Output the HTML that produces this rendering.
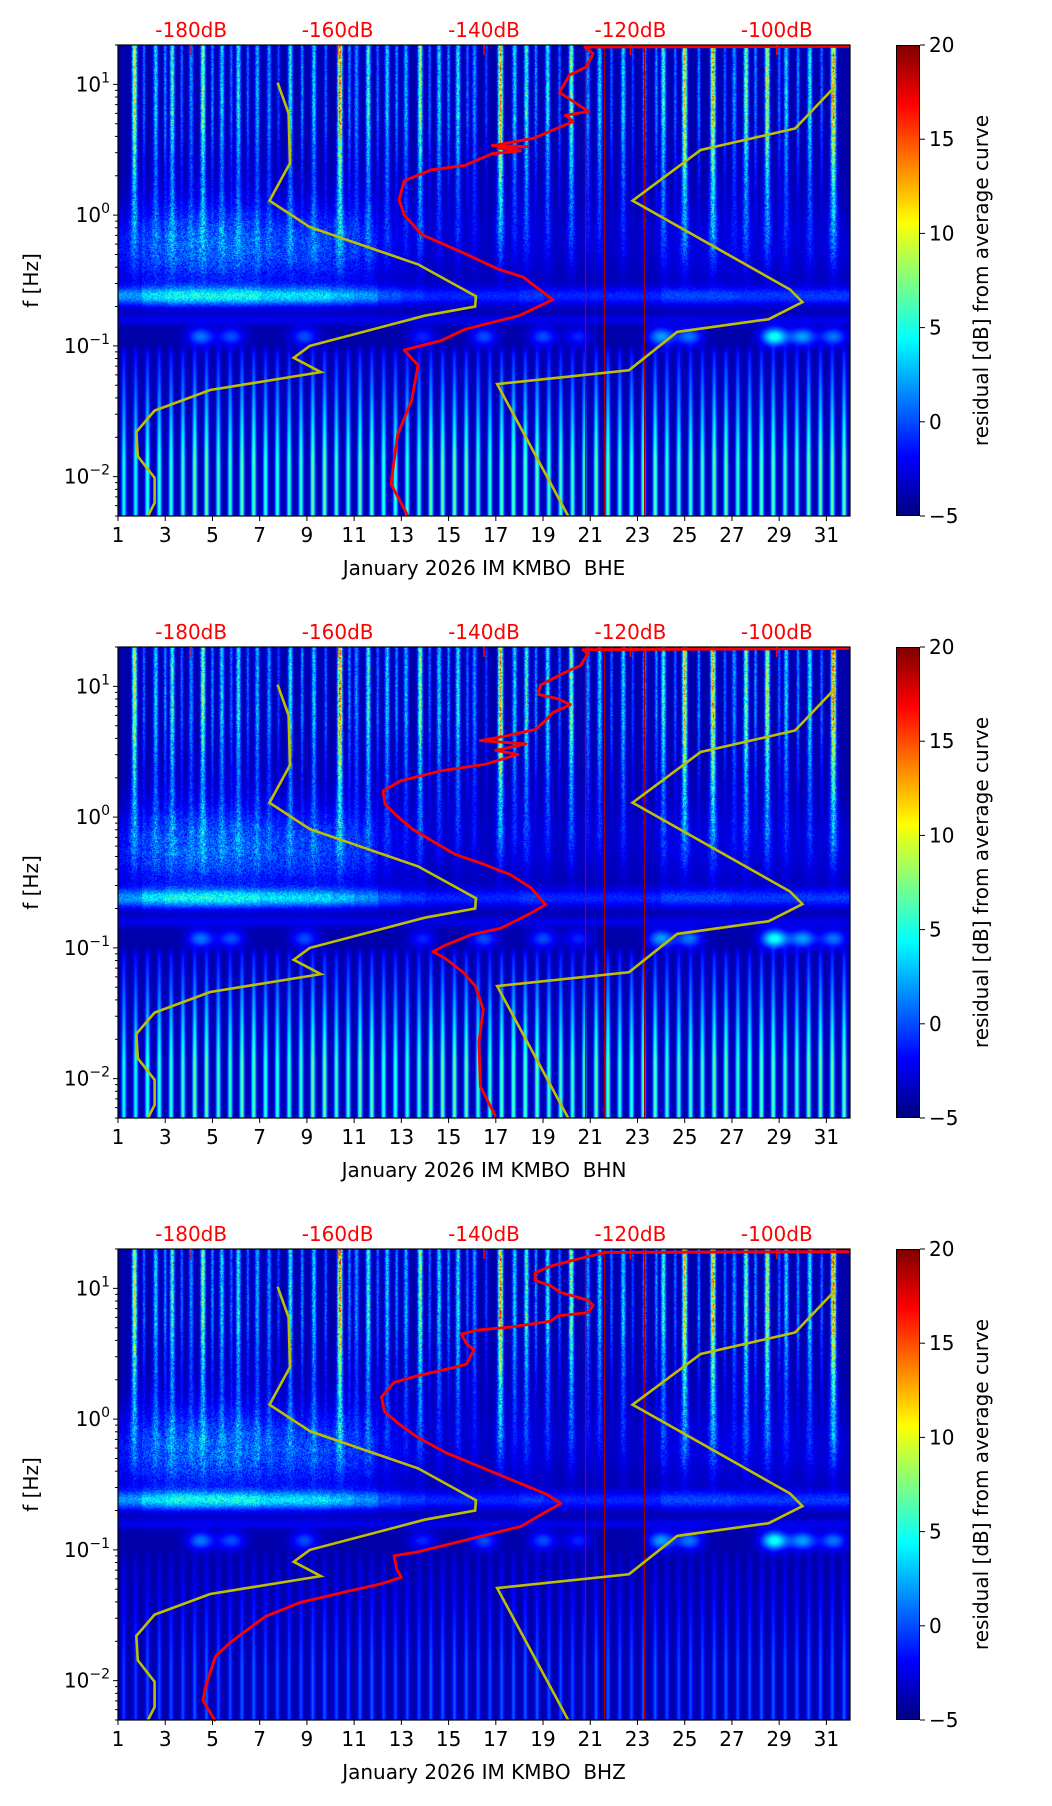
<!DOCTYPE html>
<html><head><meta charset="utf-8">
<style>
html,body{margin:0;padding:0;background:#fff;}
#root{position:relative;width:1052px;height:1806px;overflow:hidden;font-family:"DejaVu Sans","Liberation Sans",sans-serif;}
canvas{position:absolute;}
.cbar{position:absolute;width:24px;background:linear-gradient(to top,#000080 0%,#0000ff 12.5%,#00ffff 37.5%,#ffff00 62.5%,#ff0000 87.5%,#800000 100%);box-sizing:border-box;border:1px solid #000;}
svg{position:absolute;left:0;top:0;}
</style></head>
<body>
<div id="root"></div>
<script>
// ---- chart data ----
const panelNames = ["BHE","BHN","BHZ"];
const panelTops = [45, 647, 1249];
const dbTicks = [-180,-160,-140,-120,-100];
const dayTicks = [1,3,5,7,9,11,13,15,17,19,21,23,25,27,29,31];
const cbTicks = [-5,0,5,10,15,20];
// low noise model (yellow, left): dB, freq
const nlnmDb = [-168.2,-166.7,-166.5,-169.3,-163.8,-149,-141.1,-141.2,-148.1,-163.8,-166,-162.3,-177.4,-185,-187.5,-187.3,-185,-185,-185.9];
const nlnmF  = [10.3,6.0,2.5,1.29,0.81,0.42,0.24,0.2,0.17,0.1,0.081,0.063,0.046,0.032,0.022,0.0143,0.0098,0.0063,0.005];
// high noise model (yellow, right)
const nhnmDb = [-92,-97.5,-110.4,-119.7,-98.2,-96.5,-101.1,-113.6,-120.2,-138.2,-128.5];
const nhnmF  = [9.7,4.6,3.15,1.29,0.27,0.216,0.16,0.128,0.065,0.051,0.005];
// median PSD curves (red)
const bheDb = [-90,-126.2,-125.1,-126,-128.3,-129.7,-127.8,-125.7,-128.9,-127.8,-133.3,-138.9,-134,-138,-135,-138.9,-142.6,-147.2,-150.9,-151.6,-150.9,-148.5,-143,-138,-134.7,-130.6,-135.2,-142.6,-145.8,-150.9,-149,-149.9,-151.8,-152.7,-150.4];
const bheF  = [19.5,19.3,17.2,13.6,11.8,8.7,7.4,6.2,5.8,5.2,3.86,3.4,3.35,3.25,3.1,2.95,2.4,2.22,1.83,1.31,1.0,0.71,0.52,0.385,0.337,0.226,0.17,0.134,0.11,0.093,0.071,0.038,0.021,0.0088,0.005];
const bhnDb = [-90,-126.5,-125.8,-126.8,-129.2,-132.3,-132.6,-129.9,-128.2,-130.6,-131.6,-133,-137.1,-140.5,-134.3,-138.4,-135.4,-139.8,-145.9,-151.4,-153.8,-153.5,-152.1,-149.7,-147,-143.9,-140.5,-136.4,-133.6,-131.6,-133.6,-137.7,-141.8,-145.3,-147,-145.3,-142.9,-141.2,-140.1,-140.7,-140.5,-138.4];
const bhnLogF = [1.29,1.28,1.25,1.16,1.10,1.01,0.94,0.905,0.86,0.80,0.74,0.67,0.62,0.585,0.56,0.51,0.48,0.405,0.354,0.277,0.2,0.097,0.02,-0.095,-0.185,-0.287,-0.35,-0.44,-0.54,-0.67,-0.735,-0.85,-0.90,-0.98,-1.03,-1.08,-1.185,-1.29,-1.47,-1.72,-2.06,-2.29];
const bhzDb = [-90,-123.4,-126.8,-130.9,-133,-133,-130.9,-129.6,-125.8,-125.1,-125.8,-129.9,-130.9,-136.2,-141,-143.1,-142.4,-141.4,-142.4,-144.5,-149.2,-152.3,-154,-153.6,-151.9,-149.2,-145.1,-141.6,-136.2,-131.4,-129.5,-132.2,-134.9,-141.1,-149.2,-152.3,-151.9,-151.3,-154.1,-159.6,-165,-169.9,-174.6,-176.7,-178,-178.4,-176.7];
const bhzLogF = [1.28,1.275,1.23,1.17,1.12,1.06,1.02,0.97,0.91,0.87,0.815,0.79,0.75,0.705,0.68,0.65,0.58,0.53,0.42,0.39,0.33,0.28,0.17,0.06,-0.025,-0.135,-0.26,-0.34,-0.465,-0.576,-0.645,-0.73,-0.82,-0.906,-1.017,-1.045,-1.15,-1.21,-1.26,-1.33,-1.40,-1.51,-1.705,-1.815,-2.04,-2.15,-2.31];
// spectrogram texture data
const streakDays = [1.7,2.6,3.3,4.1,4.6,5.4,6.1,6.9,7.4,8.3,9.3,10.4,11.1,11.6,12.4,13.2,13.8,14.6,15.4,16.1,17.2,17.8,18.3,19.2,20.2,20.9,21.4,22.4,23.3,24.1,25.0,26.2,27.1,27.6,28.5,29.3,30.3,31.3];
const streakLevels = [14,8,10,6,12,8,9,7,6,9,8,18,6,10,8,7,12,8,9,6,18,8,10,9,12,6,8,8,6,10,16,17,6,12,14,8,9,18];
const weakDays = [2.1,3.0,3.7,5.0,5.8,6.5,7.8,8.8,9.8,10.8,12.0,12.8,14.2,15.0,15.8,16.6,18.7,19.7,21.9,22.8,23.8,24.6,25.6,26.7,28.0,29.0,29.8,30.8];
const weakLevels = [5,6,5,6,5,5,4,6,5,6,5,6,5,6,5,4,6,5,5,4,6,5,6,5,6,5,6,5];
const regionalLevels = [2,3,3.5,3.5,3.5,3.5,3,3,3,2.5,2,1.2,0.8,0.5,0.5,0.5,0.5,0.8,0.5,0.5,0.5,0.5,0.5,1,1,1,0.8,0.8,0.8,0.8,0.8];
const secDays = [4.5,5.8,8.9,13.9,16.5,19.0,20.5,24.0,25.2,28.8,30.0,31.3];
const secLevels = [5,4,4,3,4,4,3,6,5,9,6,5];
const lowLevels = [9,10,10,11,10,11,10,10,11,10,11,10,10,11,11,10,11,11,10,10,11,10,11,10,10,11,10,11,10,11,11];
const lowGain = [1,1,0.4];
const gapDays = [20.8,21.6,23.3];

const L = 118, W = 732, H = 471, LOGTOP = Math.log10(20), LOGBOT = Math.log10(0.005);
const root = document.getElementById('root');
const NS = "http://www.w3.org/2000/svg";
function xDay(d){ return L + (d-1)/31*W; }
function xDb(db){ return L + (db+190)/100*W; }
function yLog(top,lf){ return top + (LOGTOP-lf)/(LOGTOP-LOGBOT)*H; }
function jet(t){ t=Math.max(0,Math.min(1,t)); const c=v=>Math.max(0,Math.min(1,v));
  return [c(1.5-Math.abs(4*t-3))*255, c(1.5-Math.abs(4*t-2))*255, c(1.5-Math.abs(4*t-1))*255]; }
function tex(x,y){ const s=Math.sin(x*12.9898+y*78.233)*43758.5453; return s-Math.floor(s); }
function clamp01(v){ return Math.max(0,Math.min(1,v)); }

const svg = document.createElementNS(NS,'svg');
svg.setAttribute('width','1052'); svg.setAttribute('height','1806');



function el(tag, attrs, parent){ const e=document.createElementNS(NS,tag); for(const k in attrs) e.setAttribute(k,attrs[k]); (parent||svg).appendChild(e); return e; }
function txt(x,y,s,attrs,parent){ const t=el('text',Object.assign({x:x,y:y,'font-size':'20','font-family':'DejaVu Sans, Liberation Sans, sans-serif'},attrs||{}),parent); t.textContent=s; return t; }

panelNames.forEach((name,p)=>{
  const top = panelTops[p];
  const cv = document.createElement('canvas');
  cv.width=W; cv.height=H; cv.style.left=L+'px'; cv.style.top=top+'px';
  
  
  root.appendChild(cv);
  const ctx=cv.getContext('2d'); const img=ctx.createImageData(W,H);
  const colStreak=new Float32Array(W), colWide=new Float32Array(W), colReg=new Float32Array(W), colLow=new Float32Array(W);
  for(let x=0;x<W;x++){
    const d=1+(x+0.5)/W*31;
    let s=0, sw=0;
    for(let k=0;k<streakDays.length;k++){ const u=(d-streakDays[k])/0.1; if(Math.abs(u)<3) s=Math.max(s,streakLevels[k]*Math.exp(-u*u));
      const u2=(d-streakDays[k])/0.2; sw=Math.max(sw,streakLevels[k]*Math.exp(-u2*u2)); }
    for(let k=0;k<weakDays.length;k++){ const u=(d-weakDays[k])/0.07; if(Math.abs(u)<3) s=Math.max(s,weakLevels[k]*Math.exp(-u*u)); }
    colStreak[x]=s; colWide[x]=sw;
    const di=Math.min(30,Math.max(0,Math.floor(d-1)));
    colReg[x]=regionalLevels[di];
    const fr=d-Math.floor(d); const u1=Math.min(Math.abs(fr-0.25),Math.abs(fr-0.75))/0.1;
    colLow[x]=lowLevels[di]*Math.exp(-u1*u1)*lowGain[p];
  }
  for(let y=0;y<H;y++){
    const lf=LOGTOP-(y+0.5)/H*(LOGTOP-LOGBOT);
    const a1 = lf>0.75?1:(lf>-0.45?Math.pow((lf+0.45)/1.2,1.6):0);
    const wideF = clamp01((lf+0.6)/0.5);
    const regF = Math.exp(-Math.pow((lf+0.25)/0.32,2));
    const microF = Math.exp(-Math.pow((lf+0.62)/0.07,2));
    const lowF = lf<-0.98?Math.min(1,(-0.98-lf)/0.9)*0.8+0.2*clamp01((-0.98-lf)/0.08):0;
    for(let x=0;x<W;x++){
      const d=1+(x+0.5)/W*31;
      const n=tex(x,y+p*1000);
      let v=-4.0;
      v+=a1*colStreak[x]*(0.6+0.7*n) + (1-a1)*colWide[x]*0.25*(0.5+n)*wideF;
      v+=colReg[x]*regF*(0.6+1.2*n);
      v+=microF*(2.0+colReg[x]*1.6)*(0.8+0.4*n);
      if(lf<-0.7 && lf>-1.15){
        for(let k=0;k<secDays.length;k++){ const a=(d-secDays[k])/0.55, b=(lf+0.93)/0.07; v+=secLevels[k]*Math.exp(-a*a-b*b); }
        v+=1.5*Math.exp(-Math.pow((lf+0.8)/0.04,2));
      }
      v+=colLow[x]*lowF;
      const c=jet((v+5)/25); const i=(y*W+x)*4;
      img.data[i]=c[0]; img.data[i+1]=c[1]; img.data[i+2]=c[2]; img.data[i+3]=255;
    }
  }
  ctx.putImageData(img,0,0);

  const g=el('g',{});
  
  
  gapDays.forEach(gd=>{ const ln=el('line',{x1:xDay(gd),x2:xDay(gd),y1:top,y2:top+H,stroke:'#a00000','stroke-width':1.2},g);
      });
  const mk=(dbs,fs,isLog)=>dbs.map((db,i)=>xDb(db).toFixed(1)+','+yLog(top,isLog?fs[i]:Math.log10(fs[i])).toFixed(1)).join(' ');
  const nl=el('polyline',{points:mk(nlnmDb,nlnmF,false),fill:'none',stroke:'#bfbf00','stroke-width':2.6},g);
   
  const nh=el('polyline',{points:mk(nhnmDb,nhnmF,false),fill:'none',stroke:'#bfbf00','stroke-width':2.6},g);
   
  const rd = p===0?mk(bheDb,bheF,false):(p===1?mk(bhnDb,bhnLogF,true):mk(bhzDb,bhzLogF,true));
  const rl=el('polyline',{points:rd,fill:'none',stroke:'#ff0000','stroke-width':2.8,'stroke-linejoin':'round'},g);
   
  const fr=el('rect',{x:L,y:top,width:W,height:H,fill:'none',stroke:'#000','stroke-width':1.2},g);
   
  dbTicks.forEach(db=>{
    const t=txt(xDb(db),top-8,db+'dB',{fill:'#ff0000','text-anchor':'middle'},g);
     
    const tk=el('line',{x1:xDb(db),x2:xDb(db),y1:top,y2:top+10,stroke:'#ff0000','stroke-width':1.5},g);
     
  });
  dayTicks.forEach(d=>{
    const tk=el('line',{x1:xDay(d),x2:xDay(d),y1:top+H,y2:top+H+5,stroke:'#000','stroke-width':1},g);
     
    const t=txt(xDay(d),top+H+26,String(d),{'text-anchor':'middle'},g);
     
  });
  const xl=txt(L+W/2,top+H+59,'January 2026 IM KMBO \u00a0'+name,{'text-anchor':'middle'},g);
   
  for(let e=-3;e<=1;e++){
    for(let m=1;m<10;m++){
      const lf=e+Math.log10(m); if(lf>LOGTOP||lf<LOGBOT) continue;
      const y=yLog(top,lf);
      const tk=el('line',{x1:L,x2:L-(m===1?5:3),y1:y,y2:y,stroke:'#000','stroke-width':1},g);
       
      if(m===1){
        const t=txt(L-8,y+7,'10',{'text-anchor':'end'},g);
         
        const ts=document.createElementNS(NS,'tspan'); ts.setAttribute('dy','-9'); ts.setAttribute('font-size','14');
        ts.textContent=(e<0?'\u2212':'')+Math.abs(e); t.appendChild(ts);
      }
    }
  }
  const yl=txt(0,0,'f [Hz]',{'text-anchor':'middle',transform:'translate(38,'+(top+H/2)+') rotate(-90)'},g);
   
  const cb=document.createElement('div'); cb.className='cbar';
  cb.style.left='896px'; cb.style.top=top+'px'; cb.style.height=H+'px';
   
  root.appendChild(cb);
  cbTicks.forEach(v=>{
    const y=top+H-(v+5)/25*H;
    const tk=el('line',{x1:920,x2:925,y1:y,y2:y,stroke:'#000','stroke-width':1},g);
     
    const t=txt(929,y+7,(v<0?'\u2212':'')+Math.abs(v),{},g);
     
  });
  const cl=txt(0,0,'residual [dB] from average curve',{'text-anchor':'middle',transform:'translate(988,'+(top+H/2)+') rotate(-90)'},g);
   
});
root.appendChild(svg);
</script>
</body></html>
